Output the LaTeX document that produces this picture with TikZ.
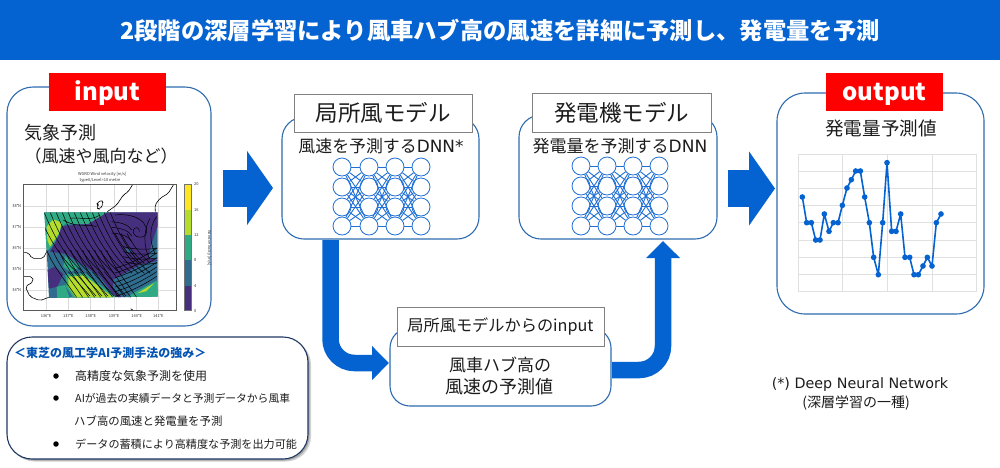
\documentclass[tikz,border=0pt]{standalone}
\usepackage{fontspec}
\setmainfont{Noto Sans CJK JP}
\newfontfamily\latf{DejaVu Sans}
\usetikzlibrary{arrows.meta}
\definecolor{tbblue}{HTML}{0563D1}
\definecolor{boxblue}{HTML}{2E6BB0}
\definecolor{navy}{HTML}{1F3864}
\definecolor{netblue}{HTML}{1F6FD6}
\definecolor{vpurple}{HTML}{46307E}
\definecolor{vblue}{HTML}{2F6C8E}
\definecolor{vteal}{HTML}{2FAA84}
\definecolor{vlime}{HTML}{B4DC2E}
\definecolor{vyellow}{HTML}{FDE725}
\definecolor{txt}{HTML}{1C1C1C}
\newcommand{\fs}[1]{\fontsize{#1}{#1}\selectfont}
\tikzset{
  rbox/.style={draw=boxblue,line width=1.1pt,fill=white,rounded corners=#1,inner sep=0pt},
  redtag/.style={fill=red,text=white,font=\fs{24}\bfseries,minimum width=117pt,minimum height=38pt,inner sep=0pt,text height=21pt,text depth=4pt},
  lbl/.style={draw=gray,line width=.7pt,fill=white,inner sep=0pt,text=txt},
  tx/.style={text=txt,inner sep=0pt,font=\fs{#1}},
  neuron/.style={circle,draw=netblue,line width=.8pt,fill=white,minimum size=18pt,inner sep=0pt},
  syn/.style={draw=netblue,line width=.9pt},
  flow/.style={draw=tbblue,line width=16.5pt,rounded corners=24pt,-{Triangle[width=33pt,length=17pt]}},
  bigflow/.style={draw=tbblue,line width=37pt,-{Triangle[width=73pt,length=26pt]}},
  smalltick/.style={text=black!80,inner sep=0pt,font=\fs{4}},
  stream/.style={draw=black,line width=.5pt},
  coast/.style={draw=black,line width=.6pt,rounded corners=2pt},
  maingrid/.style={draw=black!14,line width=.8pt},
  chartgrid/.style={draw=black!12,line width=.8pt},
  bul/.style={circle,fill=black,minimum size=5.5pt,inner sep=0pt},
  li/.style={anchor=west,inner sep=0pt,text=txt,font=\fs{#1}},
}
\newcommand{\nnet}[9]{%
  \foreach \c/\X in {1/#2,2/#3,3/#4,4/#5}
    \foreach \r/\Y in {1/#6,2/#7,3/#8,4/#9}
      \node[neuron] (#1-\c-\r) at (\X,\Y) {};
  \foreach \c/\d in {1/2,2/3,3/4}
    \foreach \r in {1,2,3,4}
      \foreach \s in {1,2,3,4}
        \draw[syn] (#1-\c-\r) -- (#1-\d-\s);
}
\begin{document}
\begin{tikzpicture}[x=1pt,y=-1pt]
\useasboundingbox (0,0) rectangle (1000,467);
% title
\node[fill=tbblue,minimum width=1000pt,minimum height=60pt,inner sep=0pt,text=white,font=\fs{23.3}\bfseries] (title) at (500,30) {2段階の深層学習により風車ハブ高の風速を詳細に予測し、発電量を予測};

% input box
\node[rbox=26pt,minimum width=204pt,minimum height=239pt] (inbox) at (109,206.5) {};
\node[redtag] (intag) at (107.5,92) {input};
\node[tx=18,anchor=west] (met1) at (24,133) {気象予測};
\node[tx=17,anchor=west] (met2) at (24.5,156) {（風速や風向など）};

% map, drawn in 3x zoomed coordinates
\begin{scope}[x=.33333pt,y=-.33333pt,yshift=-70pt]
  \foreach \g in {138,205,272,342,410,475} \draw[maingrid] (\g,343) -- (\g,722);
  \foreach \g in {408,471,534,597,660} \draw[maingrid] (70,\g) -- (530,\g);
  \begin{scope}
    \clip (133,427) -- (473,427) -- (473,680) -- (147,684) -- (143,600) -- (140,540) -- cycle;
    \fill[vblue] (130,420) rectangle (480,690);
    \fill[vteal] (133,427) -- (325,427) -- (270,462) -- (195,462) -- (160,525) -- (140,545) -- cycle;
    \fill[vpurple] (185,468) -- (265,462) -- (322,427) -- (473,427) -- (473,468) -- (455,520) -- (445,560) -- (473,572) -- (420,585) -- (340,628) -- (338,655) -- (365,682) -- (345,680) -- (300,620) -- (200,552) -- (150,545) -- (175,500) -- cycle;
    \fill[vblue] (375,535) -- (395,540) -- (385,550) -- cycle;
    \fill[vlime] (140,470) -- (160,448) -- (185,458) -- (178,488) -- (150,530) -- (142,510) -- cycle;
    \fill[vteal] (195,558) -- (240,590) -- (212,606) -- (190,590) -- cycle;
    \fill[vpurple] (143,600) -- (165,590) -- (190,612) -- (172,650) -- (147,656) -- cycle;
    \fill[vteal] (170,650) -- (195,645) -- (210,686) -- (172,686) -- cycle;
    \fill[vteal] (197,612) -- (255,610) -- (350,682) -- (222,686) -- (198,650) -- cycle;
    \fill[vlime] (205,620) -- (252,616) -- (340,682) -- (227,682) -- (205,650) -- cycle;
    \fill[vteal] (395,672) -- (470,632) -- (475,682) -- (385,682) -- cycle;
    \fill[vlime] (412,670) -- (462,640) -- (438,664) -- cycle;
    % stream lines
    \foreach \a in {115,133,...,331}
      \draw[stream] (\a,428) .. controls (\a+25,490) and (\a+60,560) .. (\a+120,610);
    \foreach \a in {140,158,...,320}
      \draw[stream] (\a,540) .. controls (\a+20,590) and (\a+55,630) .. (\a+90,682);
    \foreach \a in {205,223,...,313}
      \draw[stream] (\a,605) -- (\a+65,678);
    \foreach \a in {595,609,...,679}
      \draw[stream] (345,\a) .. controls (380,\a-10) and (425,\a-30) .. (470,\a-60);
    \foreach \a in {345,363,381}
      \draw[stream] (\a,490) .. controls (\a+15,520) and (\a+35,550) .. (\a+70,580);
    \foreach \a in {455,472,489}
      \draw[stream] (335,\a) .. controls (360,\a+2) and (385,\a+8) .. (395,\a+25);
    \foreach \a in {530,545,560,575}
      \draw[stream] (370,\a) .. controls (400,\a+8) and (440,\a+10) .. (472,\a+4);
    \draw[stream] (345,435) .. controls (380,430) and (440,440) .. (440,485) .. controls (438,510) and (395,505) .. (400,480) .. controls (403,470) and (420,470) .. (418,485);
    \draw[stream] (470,440) .. controls (445,470) and (450,520) .. (465,550);
    \draw[stream] (450,445) .. controls (430,480) and (430,530) .. (448,565);
    \draw[stream] (210,445) .. controls (240,440) and (270,455) .. (300,435);
    \draw[stream] (190,450) .. controls (230,475) and (260,460) .. (290,470);
  \end{scope}
  \draw[black!65,line width=.9pt] (70,343) rectangle (530,722);
  % coast
  \draw[coast] (397,345) -- (385,365) -- (370,375) -- (350,405) -- (322,425);
  \draw[coast] (520,345) -- (505,370) -- (480,385) -- (465,405) -- (466,425);
  \draw[coast] (290,400) -- (305,390) -- (310,400) -- (300,418) -- (290,415) -- (296,405) -- cycle;
  \draw[coast] (72,548) -- (86,548) -- (95,565) -- (130,565) -- (140,545);
  \draw[coast] (72,620) -- (97,620) -- (100,635) -- (76,650) -- (90,680) -- (120,692) -- (146,682);
  \draw[coast] (392,716) -- (398,720);
  % colour bar
  \fill[vyellow] (552,343) rectangle (573,420);
  \fill[vlime] (552,420) rectangle (573,495);
  \fill[vteal] (552,495) rectangle (573,570);
  \fill[vblue] (552,570) rectangle (573,648);
  \fill[vpurple] (552,648) rectangle (573,722);
  \draw[black!55,line width=.4pt] (552,343) rectangle (573,722);
  \foreach \v/\Y in {20/343,16/420,12/495,8/570,4/648,0/722}
    \node[smalltick,anchor=west] (cb\v) at (582,\Y) {\v};
  \node[smalltick,rotate=-90] (cbt) at (628,535) {Wind velocity [m/s]};
  \foreach \v/\Y in {38/408,37/471,36/534,35/597,34/660}
    \node[smalltick,anchor=east] (la\v) at (64,\Y) {\v°N};
  \foreach \v/\X in {136/138,137/205,138/272,139/342,140/410,141/475}
    \node[smalltick] (lo\v) at (\X,737) {\v°E};
  \node[smalltick] (mt1) at (307,314) {WGRD Wind velocity [m/s]};
  \node[smalltick] (mt2) at (300,330) {type0/Level=10 metre};
\end{scope}

% local wind model
\node[rbox=22pt,minimum width=197pt,minimum height=122pt] (wind) at (380.5,178) {};
\node[lbl,minimum width=178pt,minimum height=38pt,font=\fs{22.5}] (windl) at (383,113) {局所風モデル};
\node[tx=16.9] (windt) at (381,146) {風速を予測する{\latf DNN*}};
\nnet{a}{342}{369}{395}{421}{167}{187}{207}{226}

% generator model
\node[rbox=22pt,minimum width=198pt,minimum height=124pt] (gen) at (618,177) {};
\node[lbl,minimum width=179pt,minimum height=39pt,font=\fs{22.5}] (genl) at (621.5,112.5) {発電機モデル};
\node[tx=17] (gent) at (620,146) {発電量を予測する{\latf DNN}};
\nnet{b}{581}{607}{633}{659}{166}{186}{206}{226}

% output box
\node[rbox=28pt,minimum width=207pt,minimum height=221pt] (outbox) at (880.5,203.5) {};
\node[redtag] (outtag) at (884.5,92) {output};
\node[tx=18.6] (outt) at (881,128) {発電量予測値};
\begin{scope}[x=.33333pt,y=-.33333pt,xshift=770pt,yshift=-70pt]
  \foreach \g in {252,303,355,407,458,510,562,613,664} \draw[chartgrid] (84,\g) -- (620,\g);
  \foreach \g in {84,217,352,486,620} \draw[chartgrid] (\g,252) -- (\g,664);
  \draw[tbblue,line width=1.6pt,line join=round] (97,381) -- (110,458) -- (124,458) -- (137,510) -- (150,510) -- (163,432) -- (177,484) -- (190,458) -- (204,458) -- (217,406) -- (231,354) -- (244,329) -- (257,303) -- (271,303) -- (284,381) -- (298,458) -- (311,562) -- (325,614) -- (338,458) -- (351,278) -- (365,484) -- (378,484) -- (392,432) -- (405,562) -- (419,562) -- (432,614) -- (445,614) -- (459,588) -- (472,562) -- (486,588) -- (499,458) -- (513,432);
  \foreach \X/\Y in {97/381,110/458,124/458,137/510,150/510,163/432,177/484,190/458,204/458,217/406,231/354,244/329,257/303,271/303,284/381,298/458,311/562,325/614,338/458,351/278,365/484,378/484,392/432,405/562,419/562,432/614,445/614,459/588,472/562,486/588,499/458,513/432}
    \fill[tbblue] (\X,\Y) circle[radius=8.5];
\end{scope}

% middle box
\node[rbox=20pt,minimum width=221pt,minimum height=78pt] (mid) at (500.5,367) {};
\node[lbl,minimum width=207pt,minimum height=39pt,font=\fs{16.2}] (midl) at (500.5,326.5) {局所風モデルからのinput};
\node[tx=17] (midt1) at (500,365) {風車ハブ高の};
\node[tx=18] (midt2) at (499,387) {風速の予測値};

% arrows
\coordinate (a1s) at (223,188);
\coordinate (a1e) at (273,188);
\draw[bigflow] (a1s) -- (a1e);
\coordinate (a2s) at (728,188.5);
\coordinate (a2e) at (775,188.5);
\draw[bigflow] (a2s) -- (a2e);
\coordinate (a3s) at (330.5,240);
\coordinate (a3e) at (389,363);
\draw[flow] (a3s) |- (a3e);
\coordinate (a4s) at (612,370);
\coordinate (a4e) at (663,241);
\draw[flow] (a4s) -| (a4e);

% strengths box
\fill[black!18,rounded corners=25pt] (9.5,339.5) rectangle (311,461.5);
\fill[black!35,rounded corners=25pt] (8.5,338.5) rectangle (309.5,460.5);
\node[draw=navy,line width=1.1pt,fill=white,rounded corners=25pt,minimum width=301pt,minimum height=122pt,inner sep=0pt] (str) at (157.5,398) {};
\node[anchor=west,inner sep=0pt,text=tbblue!85!black,font=\fs{12}\bfseries] (strh) at (14,353) {＜東芝の風工学AI予測手法の強み＞};
\node[bul] (b1) at (56,376) {};
\node[bul] (b2) at (56,398) {};
\node[bul] (b3) at (56,444) {};
\node[li=12] (s1) at (75,376) {高精度な気象予測を使用};
\node[li=10.8] (s2) at (75,398) {AIが過去の実績データと予測データから風車};
\node[li=11.4] (s3) at (74,421) {ハブ高の風速と発電量を予測};
\node[li=11.1] (s4) at (75,444) {データの蓄積により高精度な予測を出力可能};

% footnote
\node[tx=14.3] (fn1) at (860,385) {\latf (*) Deep Neural Network};
\node[tx=14] (fn2) at (856,403) {(深層学習の一種)};
\end{tikzpicture}
\end{document}
